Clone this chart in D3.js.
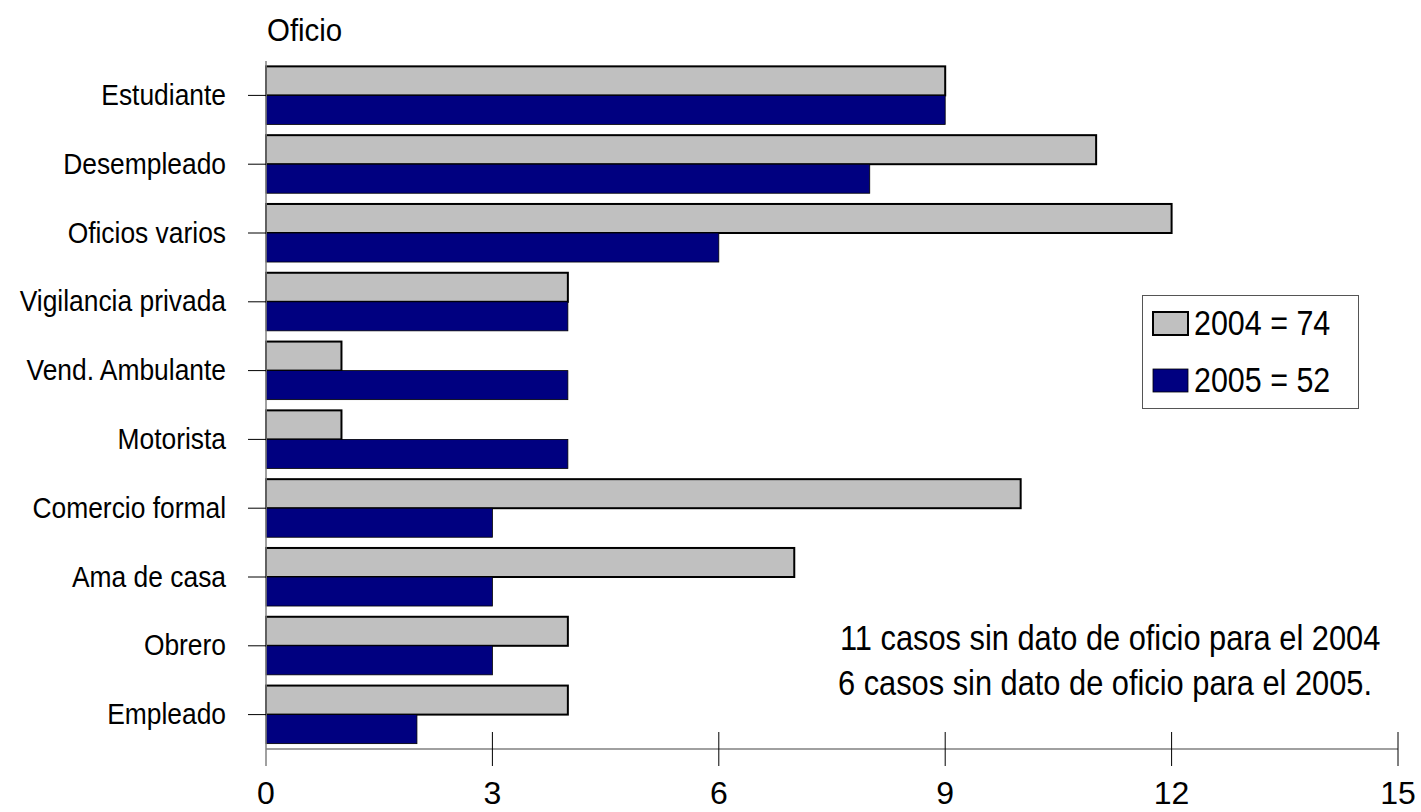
<!DOCTYPE html>
<html><head><meta charset="utf-8">
<script src="https://cdn.jsdelivr.net/npm/d3@7"></script>
<style>
html,body{margin:0;padding:0;background:#fff;}
svg{display:block;font-family:"Liberation Sans",Arial,sans-serif;}
</style></head>
<body>
<svg id="chart" width="1421" height="812"></svg>
<script>
const categories = ["Estudiante","Desempleado","Oficios varios","Vigilancia privada","Vend. Ambulante","Motorista","Comercio formal","Ama de casa","Obrero","Empleado"];
const values2004 = [9,11,12,4,1,1,10,7,4,4];
const values2005 = [9,8,6,4,4,4,3,3,3,2];
const seriesLabels = ["2004 = 74","2005 = 52"];
const xTicks = [0,3,6,9,12,15];
const axisTitle = "Oficio";
const notes = ["11 casos sin dato de oficio para el 2004","6 casos sin dato de oficio para el 2005."];

const svg = d3.select("#chart");
const x = d3.scaleLinear().domain([0,15]).range([266,1398]);
const y = d3.scaleBand().domain(categories).range([61,749]).padding(0);
const barH = y.bandwidth()*0.422;

function txt(g, s, tx, ty, size, sx, anchor){
  return g.append("text")
    .attr("transform",`translate(${tx},${ty}) scale(${sx},1)`)
    .attr("font-size",size).attr("text-anchor",anchor||"start")
    .attr("fill","#000").text(s);
}

// bars
const gBars = svg.append("g");
categories.forEach((c,i)=>{
  const cy = y(c)+y.bandwidth()/2;
  gBars.append("rect").attr("x",x(0)).attr("y",cy-barH)
    .attr("width",x(values2004[i])-x(0)).attr("height",barH)
    .attr("fill","#c0c0c0").attr("stroke","#000").attr("stroke-width",2);
  gBars.append("rect").attr("x",x(0)).attr("y",cy)
    .attr("width",x(values2005[i])-x(0)).attr("height",barH)
    .attr("fill","#000080").attr("stroke","#000").attr("stroke-width",0.8);
});

// y axis
const gy = svg.append("g");
gy.append("line").attr("x1",x(0)).attr("x2",x(0)).attr("y1",61).attr("y2",766)
  .attr("stroke","#808080").attr("stroke-width",1.5);
categories.forEach(c=>{
  const cy = y(c)+y.bandwidth()/2;
  gy.append("line").attr("x1",248).attr("x2",x(0)).attr("y1",cy).attr("y2",cy)
    .attr("stroke","#000").attr("stroke-width",1);
  txt(gy, c, 226, cy+9.6, 29, 0.91, "end");
});

// x axis
const gx = svg.append("g");
gx.append("line").attr("x1",x(0)).attr("x2",x(15)).attr("y1",749).attr("y2",749)
  .attr("stroke","#808080").attr("stroke-width",1.5);
xTicks.forEach(t=>{
  if(t>0) gx.append("line").attr("x1",x(t)).attr("x2",x(t)).attr("y1",732).attr("y2",766)
    .attr("stroke","#000").attr("stroke-width",1);
  txt(gx, String(t), x(t), 804, 32, 1, "middle");
});

// title
txt(svg, axisTitle, 267, 41, 31, 0.95, "start");

// legend
const lg = svg.append("g");
lg.append("rect").attr("x",1142.5).attr("y",295.5).attr("width",216).attr("height",113)
  .attr("fill","#fff").attr("stroke","#555").attr("stroke-width",1);
lg.append("rect").attr("x",1153).attr("y",312).attr("width",35).attr("height",23)
  .attr("fill","#c0c0c0").attr("stroke","#000").attr("stroke-width",2);
lg.append("rect").attr("x",1153).attr("y",369).attr("width",35).attr("height",23)
  .attr("fill","#000080").attr("stroke","#000").attr("stroke-width",0.8);
txt(lg, seriesLabels[0], 1194, 335, 35, 0.87, "start");
txt(lg, seriesLabels[1], 1194, 392, 35, 0.87, "start");

// notes
txt(svg, notes[0], 840, 650, 35, 0.88, "start");
txt(svg, notes[1], 838, 695, 35, 0.88, "start");
</script>
</body></html>
